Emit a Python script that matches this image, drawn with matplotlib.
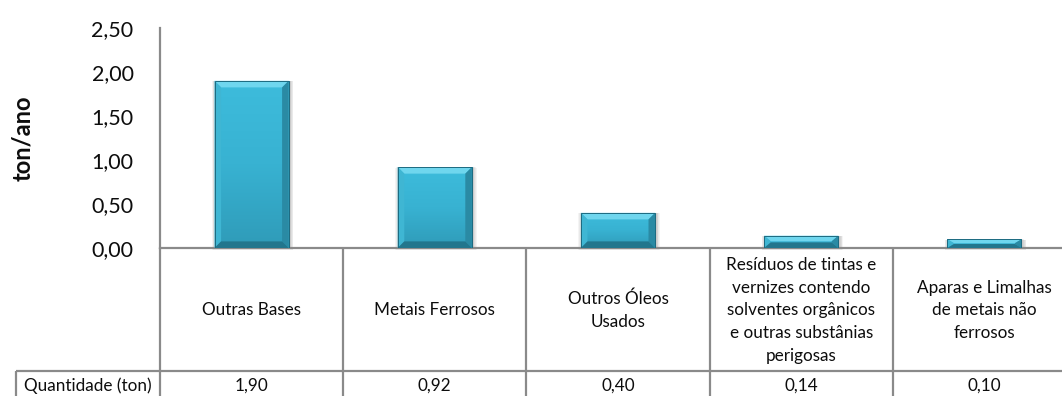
import matplotlib
matplotlib.use('Agg')
import matplotlib.pyplot as plt
import numpy as np
from matplotlib.colors import LinearSegmentedColormap
from matplotlib.patches import Polygon, Rectangle
from matplotlib.ticker import FuncFormatter, MultipleLocator

CATEGORIES = ['Outras Bases', 'Metais Ferrosos', 'Outros Óleos\nUsados',
              'Resíduos de tintas e\nvernizes contendo\nsolventes orgânicos\n'
              'e outras substânias\nperigosas',
              'Aparas e Limalhas\nde metais não\nferrosos']
QUANTIDADE = [1.90, 0.92, 0.40, 0.14, 0.10]
ROW_LABEL = 'Quantidade (ton)'
Y_LABEL = 'ton/ano'

W, H, DPI = 1062, 396, 100
GRID = '#8a8a8a'
TXT = '#0d0d0d'
FONT = 'Lato'
TABLE_FS = 12.3

plt.rcParams['font.family'] = [FONT, 'DejaVu Sans']

fig = plt.figure(figsize=(W / DPI, H / DPI), dpi=DPI)

# plot area in pixels (x from left, y from top); it runs past the right edge
px_left, px_right, px_top, px_zero = 160, 1076, 28, 248
ax = fig.add_axes([px_left / W, (H - px_zero) / H,
                   (px_right - px_left) / W, (px_zero - px_top) / H])
ax.set_xlim(-0.5, len(CATEGORIES) - 0.5)
ax.set_ylim(0, 2.5)
ax.yaxis.set_major_locator(MultipleLocator(0.5))
ax.yaxis.set_major_formatter(FuncFormatter(lambda v, p: f'{v:.2f}'.replace('.', ',')))
ax.tick_params(axis='y', length=0, pad=19, labelsize=15.5, labelcolor=TXT)
ax.set_xticks([])
for s in ['top', 'right']:
    ax.spines[s].set_visible(False)
for s in ['left', 'bottom']:
    ax.spines[s].set_color(GRID)
    ax.spines[s].set_linewidth(1.6)
ax.set_ylabel(Y_LABEL, fontsize=17, fontweight='bold', color=TXT, va='center')
ax.yaxis.set_label_coords(-(px_left - 23) / (px_right - px_left), 0.5)

x = np.arange(len(CATEGORIES))
bw = 0.405
bars = ax.bar(x, QUANTIDADE, width=bw, color='#34aecb', edgecolor='#1d6a80',
              linewidth=0.6, zorder=3)

# soft drop shadow under each bar
for b in bars:
    bx, bh = b.get_x(), b.get_height()
    for k in range(5):
        gx = 0.004 * (k + 1)
        gy = 0.012 * (k + 1)
        ax.add_patch(Rectangle((bx - gx + 0.006, -gy * 0.4), bw + 2 * gx,
                               bh + gy * 0.3, color='#000000', alpha=0.045,
                               lw=0, zorder=2, clip_on=False))

# vertical gradient on the bar face, then bevel edges
grad = np.linspace(0, 1, 256).reshape(-1, 1)
face_cmap = LinearSegmentedColormap.from_list('face', ['#2f9bb8', '#38b2d2', '#3dbcdc'])
for b in bars:
    bx, bh = b.get_x(), b.get_height()
    im = ax.imshow(grad, extent=(bx, bx + bw, 0, bh), origin='lower',
                   cmap=face_cmap, aspect='auto', zorder=3.5)
    im.set_clip_path(b)
    ex = 0.036
    ey = min(0.075, bh / 2.2)
    x0, x1, y0, y1 = bx, bx + bw, 0, bh
    ix0, ix1, iy0, iy1 = x0 + ex, x1 - ex, y0 + ey, y1 - ey
    bevels = [
        ([(x0, y1), (x1, y1), (ix1, iy1), (ix0, iy1)], '#6fd6ee'),   # top
        ([(x0, y0), (x0, y1), (ix0, iy1), (ix0, iy0)], '#3fb6d3'),   # left
        ([(x1, y0), (x1, y1), (ix1, iy1), (ix1, iy0)], '#2a8aa4'),   # right
        ([(x0, y0), (x1, y0), (ix1, iy0), (ix0, iy0)], '#22768d'),   # bottom
    ]
    for pts, c in bevels:
        ax.add_patch(Polygon(pts, closed=True, color=c, lw=0, zorder=4))
    ax.add_patch(Rectangle((x0, y0), bw, bh, fill=False, edgecolor='#1d6a80',
                           lw=0.7, zorder=5))

# data table below the plot area, y in pixels from the top
tax = fig.add_axes([px_left / W, 0, (px_right - px_left) / W, (H - px_zero) / H])
tax.set_xlim(-0.5, len(CATEGORIES) - 0.5)
tax.set_ylim(H, px_zero)
tax.axis('off')

col_px = (px_right - px_left) / len(CATEGORIES)
head_left = -0.5 - (px_left - 16) / col_px
row_sep, row_bot = 371, 402
line_kw = dict(color=GRID, lw=1.6, clip_on=False, solid_capstyle='butt')

for i in range(len(CATEGORIES) + 1):
    tax.plot([i - 0.5, i - 0.5], [px_zero, row_bot], **line_kw)
tax.plot([head_left, len(CATEGORIES) - 0.5], [row_sep, row_sep], **line_kw)
tax.plot([head_left, head_left], [row_sep, row_bot], **line_kw)

for i, (cat, val) in enumerate(zip(CATEGORIES, QUANTIDADE)):
    tax.text(i, (px_zero + row_sep) / 2 + 1, cat, ha='center', va='center',
             fontsize=TABLE_FS, linespacing=1.52, color=TXT)
    tax.text(i, 386, f'{val:.2f}'.replace('.', ','), ha='center', va='center',
             fontsize=TABLE_FS, color=TXT)
tax.text((head_left - 0.5) / 2, 386, ROW_LABEL, ha='center', va='center',
         fontsize=TABLE_FS, color=TXT, clip_on=False)

fig.savefig('out.png', dpi=DPI)
